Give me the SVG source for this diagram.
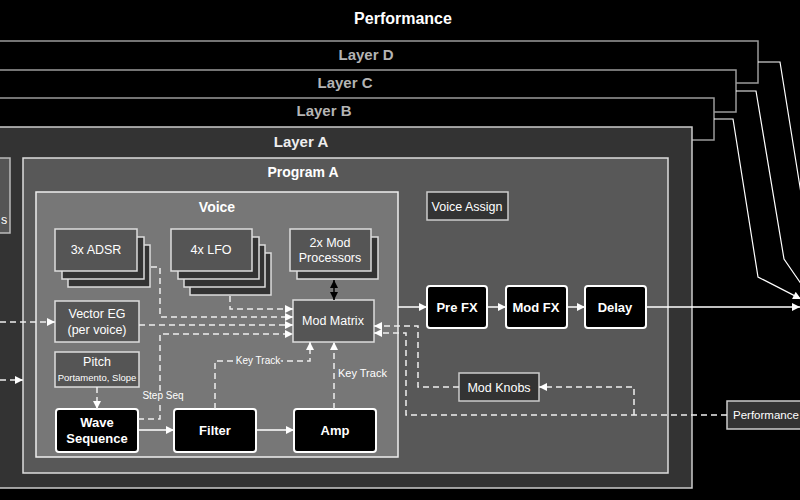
<svg xmlns="http://www.w3.org/2000/svg" width="800" height="500" viewBox="0 0 800 500">
<style>
text{font-family:"Liberation Sans",Arial,sans-serif;fill:#fff;text-anchor:middle}
.t{font-size:12.5px}
.b{font-size:13px;font-weight:bold}
.h{font-size:15px;font-weight:bold}
.g{fill:#b4b4b4}
.lay{fill:#000;stroke:#9a9a9a;stroke-width:1.5}
.box{fill:#555;stroke:#ddd;stroke-width:1.5}
.back{fill:#333;stroke:#ddd;stroke-width:1.5}
.dk{fill:#333;stroke:#ccc;stroke-width:1.5}
.blk{fill:#000;stroke:#fff;stroke-width:2}
.sol{fill:none;stroke:#fff;stroke-width:1.5}
.thin{fill:none;stroke:#fff;stroke-width:1.2}
.dash{fill:none;stroke:#eee;stroke-width:1.5;stroke-dasharray:6 4}
.lbl{font-size:10px;stroke:#777;stroke-width:4;paint-order:stroke;stroke-linejoin:round}
</style>
<defs>
<marker id="ah" viewBox="0 0 10 10" refX="10" refY="5" markerWidth="9" markerHeight="8" markerUnits="userSpaceOnUse" orient="auto-start-reverse"><path d="M0,0 L10,5 L0,10 z" fill="#fff"/></marker>
<marker id="bk" viewBox="0 0 10 10" refX="10" refY="5" markerWidth="8" markerHeight="8" markerUnits="userSpaceOnUse" orient="auto-start-reverse"><path d="M0,0 L10,5 L0,10 z" fill="#000"/></marker>
</defs>
<rect width="800" height="500" fill="#000"/>
<text x="403" y="24" style="font-size:16px;font-weight:bold">Performance</text>

<g id="layer-d"><rect class="lay" x="-30" y="41" width="788" height="42"/><text class="h g" x="366" y="60">Layer D</text></g>
<g id="layer-c"><rect class="lay" x="-30" y="70" width="766" height="42"/><text class="h g" x="345" y="88">Layer C</text></g>
<g id="layer-b"><rect class="lay" x="-30" y="98" width="744" height="42"/><text class="h g" x="324" y="116">Layer B</text></g>
<g id="layer-a"><rect x="-30" y="127" width="722" height="361" fill="#333" stroke="#ccc" stroke-width="1.5"/><text class="h" x="301" y="147" style="fill:#eee">Layer A</text></g>
<g id="left-box"><rect x="-20" y="158" width="30" height="75" fill="#555" stroke="#bbb" stroke-width="1.5"/><text class="t" x="4" y="224">s</text></g>
<g id="program-a"><rect x="23" y="158" width="645" height="315" fill="#585858" stroke="#ddd" stroke-width="1.5"/><text style="font-size:14px;font-weight:bold" x="303" y="177">Program A</text></g>
<g id="voice"><rect x="36" y="192" width="362" height="265" fill="#777" stroke="#eee" stroke-width="1.5"/><text style="font-size:14px;font-weight:bold" x="217" y="212">Voice</text></g>

<g id="adsr">
<rect class="back" x="68" y="245" width="82" height="42"/>
<rect class="back" x="62" y="237" width="82" height="42"/>
<rect class="box" x="55" y="229" width="82" height="42"/>
<text class="t" x="96" y="254">3x ADSR</text></g>
<g id="lfo">
<rect class="back" x="190" y="253" width="81" height="42"/>
<rect class="back" x="184" y="245" width="81" height="42"/>
<rect class="back" x="178" y="237" width="81" height="42"/>
<rect class="box" x="171" y="229" width="81" height="42"/>
<text class="t" x="211" y="254">4x LFO</text></g>
<g id="mod-proc">
<rect class="back" x="297" y="237" width="81" height="42"/>
<rect class="box" x="290" y="229" width="81" height="42"/>
<text class="t" x="330" y="247">2x Mod</text><text class="t" x="330" y="262">Processors</text></g>
<g id="vector-eg"><rect class="box" x="55" y="301" width="84" height="41"/><text class="t" x="97" y="318">Vector EG</text><text class="t" x="97" y="334">(per voice)</text></g>
<g id="pitch"><rect class="box" x="55" y="352" width="84" height="35"/><text class="t" x="97" y="366">Pitch</text><text x="97" y="381" style="font-size:9.5px">Portamento, Slope</text></g>
<g id="mod-matrix"><rect class="box" x="293" y="300" width="81" height="42"/><text class="t" x="333" y="325">Mod Matrix</text></g>
<g id="wave-seq"><rect class="blk" x="56" y="409" width="82" height="43" rx="3"/><text class="b" x="97" y="427">Wave</text><text class="b" x="97" y="443">Sequence</text></g>
<g id="filter"><rect class="blk" x="174" y="409" width="82" height="43" rx="3"/><text class="b" x="215" y="435">Filter</text></g>
<g id="amp"><rect class="blk" x="294" y="409" width="82" height="43" rx="3"/><text class="b" x="335" y="435">Amp</text></g>
<g id="voice-assign"><rect class="dk" x="427" y="192" width="81" height="28"/><text class="t" x="467" y="211">Voice Assign</text></g>
<g id="pre-fx"><rect class="blk" x="427" y="286" width="60" height="42" rx="3"/><text class="b" x="457" y="312">Pre FX</text></g>
<g id="mod-fx"><rect class="blk" x="506" y="286" width="61" height="42" rx="3"/><text class="b" x="536" y="312">Mod FX</text></g>
<g id="delay"><rect class="blk" x="585" y="286" width="61" height="42" rx="3"/><text class="b" x="615" y="312">Delay</text></g>
<g id="mod-knobs"><rect class="dk" x="459" y="373" width="80" height="28"/><text class="t" x="499" y="392">Mod Knobs</text></g>
<g id="performance-ctl"><rect class="dk" x="727" y="401" width="90" height="28"/><text x="733" y="419" style="text-anchor:start;font-size:11.5px">Performance</text></g>

<g id="connectors">
<path class="thin" d="M758,62 H780 L800,187 L810,250"/>
<path class="thin" d="M736,91 H756 L784,259 L806,291"/>
<path class="thin" d="M714,119 H733 L758,277 L801,299" marker-end="url(#ah)"/>
<path class="sol" d="M646,307 H800" marker-end="url(#ah)"/>
<path class="sol" d="M398,307 H427" marker-end="url(#ah)"/>
<path class="sol" d="M487,307 H506" marker-end="url(#ah)"/>
<path class="sol" d="M567,307 H585" marker-end="url(#ah)"/>
<path class="sol" d="M138,430 H174" marker-end="url(#ah)"/>
<path class="sol" d="M256,430 H294" marker-end="url(#ah)"/>
<path fill="none" stroke="#000" stroke-width="1.5" d="M334,280 V300" marker-start="url(#bk)" marker-end="url(#bk)"/>
<path class="dash" d="M0,322 H55" marker-end="url(#ah)"/>
<path class="dash" d="M0,380 H23" marker-end="url(#ah)"/>
<path class="dash" d="M151,267 H160 V317 H293" marker-end="url(#ah)"/>
<path class="dash" d="M230,296 V309 H293" marker-end="url(#ah)"/>
<path class="dash" d="M139,325 H293" marker-end="url(#ah)"/>
<path class="dash" d="M138,419 H160 V334 H293" marker-end="url(#ah)"/>
<path class="dash" d="M97,387 V409" marker-end="url(#ah)"/>
<path class="dash" d="M215,409 V361 H310 V342" marker-end="url(#ah)"/>
<path class="dash" d="M334,409 V342" marker-end="url(#ah)"/>
<path class="dash" d="M727,415 H406 V333 H374" marker-end="url(#ah)"/>
<path class="dash" d="M634,415 V387 H539" marker-end="url(#ah)"/>
<path class="dash" d="M459,387 H418 V326 H374" marker-end="url(#ah)"/>
<text class="lbl" x="163" y="399">Step Seq</text>
<text class="lbl" x="258" y="364">Key Track</text>
<text class="lbl" x="338" y="377" style="text-anchor:start;font-size:11px;stroke:none">Key Track</text>
</g>
</svg>
